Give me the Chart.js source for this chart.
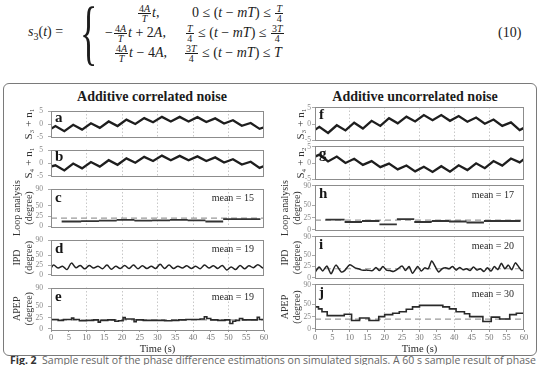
<!DOCTYPE html>
<html>
<head>
<meta charset="utf-8">
<script src="https://cdn.jsdelivr.net/npm/chart.js@4.4.0/dist/chart.umd.min.js"></script>
<style>
html, body { margin: 0; padding: 0; background: #fff; }
body { width: 540px; height: 365px; overflow: hidden; position: relative; font-family: "Liberation Serif", serif; color: #1c1c1c; }
canvas { position: absolute; }
#frame { position: absolute; left: 3px; top: 83px; width: 532px; height: 271px; border: 1px solid #7a7a7a; border-radius: 6px; }
.ttl { position: absolute; top: 89px; width: 260px; text-align: center; font-weight: bold; font-size: 14px; line-height: 16px; }
.eq { position: absolute; font-family: "Liberation Serif", serif; font-size: 14px; line-height: 20px; white-space: nowrap; }
.fr { display: inline-block; vertical-align: middle; text-align: center; font-size: 10px; line-height: 9px; margin: 0 1px; }
.fr > span { display: block; padding: 0 1px; }
.fr > span:first-child { border-bottom: 1px solid #1c1c1c; }
#brace { position: absolute; left: 80px; top: -4px; font-family: "Liberation Serif", serif; font-size: 72px; line-height: 72px; transform: scaleX(0.5); transform-origin: left top; }
#cap { position: absolute; left: 10px; top: 354px; font-family: "Open Sans", sans-serif; font-size: 10.5px; line-height: 13px; color: #666; white-space: nowrap; }
#cap b { color: #333; }
</style>
</head>
<body>
<div class="eq" style="left:28px;top:22px"><i>s</i><sub style="font-size:10px;line-height:0">3</sub>(<i>t</i>) =</div>
<div id="brace">{</div>
<div class="eq" style="left:137px;top:3px"><span class="fr"><span>4<i>A</i></span><span><i>T</i></span></span><i>t</i>,</div>
<div class="eq" style="left:192px;top:3px">0 ≤ (<i>t</i> − <i>mT</i>) ≤ <span class="fr"><span><i>T</i></span><span>4</span></span></div>
<div class="eq" style="left:105px;top:23px">−<span class="fr"><span>4<i>A</i></span><span><i>T</i></span></span><i>t</i> + 2<i>A</i>,</div>
<div class="eq" style="left:185px;top:23px"><span class="fr"><span><i>T</i></span><span>4</span></span> ≤ (<i>t</i> − <i>mT</i>) ≤ <span class="fr"><span>3<i>T</i></span><span>4</span></span></div>
<div class="eq" style="left:114px;top:43px"><span class="fr"><span>4<i>A</i></span><span><i>T</i></span></span><i>t</i> − 4<i>A</i>,</div>
<div class="eq" style="left:184px;top:43px"><span class="fr"><span>3<i>T</i></span><span>4</span></span> ≤ (<i>t</i> − <i>mT</i>) ≤ <i>T</i></div>
<div class="eq" style="left:498px;top:23px">(10)</div>

<div id="frame"></div>
<div class="ttl" style="left:22px">Additive correlated noise</div>
<div class="ttl" style="left:285px">Additive uncorrelated noise</div>
<div id="cap"><b>Fig. 2</b>&nbsp; Sample result of the phase difference estimations on simulated signals. A 60 s sample result of phase</div>

<script>
// triangle-wave vertices (s)
const triT = [0, 1.25, 3.75, 6.25, 8.75, 11.25, 13.75, 16.25, 18.75, 21.25, 23.75, 26.25, 28.75, 31.25, 33.75, 36.25, 38.75, 41.25, 43.75, 46.25, 48.75, 51.25, 53.75, 56.25, 58.75, 60];
const sigA = [-1.9, -0.8, -2.8, -0.3, -2.2, 0.3, -1.5, 1.0, -0.8, 1.7, 0.0, 2.3, 0.7, 2.8, 1.0, 2.8, 1.0, 2.7, 0.8, 2.2, 0.2, 1.5, -0.7, 0.4, -1.9, -1.3];
const sigB = [-1.4, -0.9, -2.9, -0.2, -2.1, 0.4, -1.4, 1.1, -0.7, 1.8, 0.1, 2.4, 0.8, 2.9, 1.1, 2.8, 1.1, 2.6, 0.8, 2.2, 0.2, 1.5, -0.6, 0.5, -1.9, -1.2];
const sigF = [-1.8, -0.9, -2.8, -0.4, -2.0, 0.4, -1.4, 1.0, -0.6, 1.8, 0.2, 2.3, 0.8, 2.8, 1.2, 2.8, 1.0, 2.5, 0.7, 2.0, 0.1, 1.4, -0.6, 0.5, -1.9, -1.2];
const sigG = [2.0, 2.6, 0.5, 2.0, 0.0, 1.3, -0.6, 0.6, -1.3, -0.2, -2.0, -0.8, -2.6, -1.2, -2.8, -1.0, -2.7, -0.7, -2.2, -0.1, -1.6, 0.6, -0.8, 1.4, 0.2, 1.2];

// loop analysis windows (s) and estimates (degree)
const loopT = [3, 8.5, 13.5, 18.5, 23.5, 28.5, 33.5, 38.5, 43.5, 48.5, 53.5, 59];
const loopL = [12, 13, 14, 16, 14, 15, 16, 15, 12, 18, 18];
const loopR = [21, 16, 18, 11, 22, 16, 18, 17, 15, 18, 18];

// IPD
const ipdLT = [0, 0.75, 2, 3.25, 4.5, 5.75, 7, 8.25, 9.5, 10.75, 12, 13.25, 14.5, 15.75, 17, 18.25, 19.5, 20.75, 22, 23.25, 24.5, 25.75, 27, 28.25, 29.5, 30.75, 32, 33.25, 34.5, 35.75, 37, 38.25, 39.5, 40.75, 42, 43.25, 44.5, 45.75, 47, 48.25, 49.5, 50.75, 52, 53.25, 54.5, 55.75, 57, 58.25, 59.5, 60];
const ipdL = [17, 25, 17, 22, 13, 30, 18, 24, 15, 24, 17, 22, 15, 25, 14, 22, 16, 24, 16, 25, 15, 23, 16, 22, 16, 27, 16, 25, 16, 22, 17, 23, 16, 22, 15, 25, 17, 23, 16, 24, 12, 20, 13, 24, 15, 23, 18, 26, 18, 16];
const ipdRT = [0, 1.2, 2.2, 3.4, 4.6, 6, 7.5, 8.5, 10, 11.5, 12.5, 13.5, 15, 16.5, 17.5, 18.5, 19.5, 20.5, 21.5, 22.5, 23.5, 25, 26, 27, 28, 29.5, 30.5, 31.5, 32.5, 33.5, 34.5, 35.5, 36.5, 37.5, 38.5, 39.5, 40.5, 41.5, 42.5, 43.5, 44.5, 45.5, 46.5, 47.5, 48.5, 49.5, 50.5, 51.5, 52.5, 53.5, 54.5, 55.5, 56.5, 57.5, 58.5, 59.3, 60];
const ipdR = [12, 24, 15, 26, 9, 28, 13, 16, 29, 22, 20, 17, 17, 16, 23, 16, 25, 17, 16, 14, 18, 26, 16, 25, 10, 25, 15, 22, 20, 37, 25, 13, 20, 22, 20, 25, 17, 23, 18, 20, 16, 24, 17, 20, 14, 22, 15, 25, 18, 32, 20, 28, 18, 33, 24, 16, 17];

// APEP
const apepLT = [0, 2, 3.5, 5.8, 6.4, 8, 10, 12, 13.3, 13.9, 16, 18, 19, 20.3, 20.9, 23.4, 24, 26, 30, 32, 34, 36, 38, 40, 42, 43.2, 43.9, 45, 47, 49, 50.4, 51.2, 52, 53.1, 54, 57, 58.1, 58.7, 60];
const apepL = [21, 19, 21, 24, 21, 18, 19, 20, 15, 19, 20, 17, 18, 25, 22, 16, 20, 19, 19, 18, 19, 20, 21, 21, 22, 27, 23, 20, 19, 20, 12, 17, 19, 23, 20, 20, 26, 21, 20];
const apepRT = [0, 1, 2, 3.5, 8.4, 10.5, 12.8, 15.5, 18.3, 20, 22.3, 24.2, 26.2, 28, 30, 36.7, 38.6, 40.5, 42.9, 44.4, 48.2, 50.6, 53, 55.9, 57.8, 60];
const apepR = [45, 41, 35, 27, 30, 17, 22, 17, 25, 29, 32, 35, 40, 45, 48, 45, 41, 35, 31, 25, 15, 24, 20, 29, 32, 32];

const refLevel = 20;
const sigTicks = [-5, 0, 5];
const degTicks = [0, 25, 50, 90];

Chart.defaults.font.family = '"Liberation Serif", serif';

function pts(xs, ys) {
    return xs.map((x, i) => ({x: x, y: ys[i]}));
}
// separate horizontal pieces, one per window
function segs(starts, ys) {
    const out = [];
    ys.forEach((y, i) => {
        out.push({x: starts[i], y: y}, {x: starts[i + 1], y: y}, {x: starts[i + 1], y: null});
    });
    return out;
}
function refLine() {
    return {data: [{x: 0, y: refLevel}, {x: 60, y: refLevel}], borderColor: '#9a9a9a', borderWidth: 1.2, borderDash: [6, 4], order: 2};
}

const panelFrame = {
    id: 'panelFrame',
    afterDraw(chart, args, opts) {
        const ctx = chart.ctx, a = chart.chartArea;
        ctx.save();
        ctx.strokeStyle = '#8c8c8c';
        ctx.lineWidth = 1;
        ctx.strokeRect(Math.round(a.left) + 0.5, Math.round(a.top) + 0.5, Math.round(a.right - a.left) - 1, Math.round(a.bottom - a.top) - 1);
        ctx.fillStyle = '#151515';
        ctx.font = 'bold 15px "Liberation Serif"';
        ctx.textBaseline = 'alphabetic';
        ctx.fillText(opts.letter, a.left + 4, a.top + opts.base);
        if (opts.mean) {
            ctx.font = '10px "Liberation Serif"';
            ctx.textAlign = 'right';
            ctx.textBaseline = 'middle';
            ctx.fillStyle = '#2a2a2a';
            ctx.fillText(opts.mean, a.right - 10, a.top + 10);
        }
        ctx.restore();
    }
};

const cols = {
    L: {left: 0, width: 270, axisW: 51, padR: 6, tickPad: 5, sigPad: 23, degPad: 11},
    R: {left: 270, width: 270, axisW: 45, padR: 16, tickPad: 1, sigPad: 25, degPad: 9}
};
const rows = [
    {top: 107, h: 34},
    {top: 146, h: 34},
    {top: 185, h: 46},
    {top: 236, h: 43},
    {top: 284, h: 46, bottom: true}
];

function panel(spec) {
    const col = cols[spec.col];
    const row = rows[spec.row];
    const sig = spec.kind === 'sig';
    const cv = document.createElement('canvas');
    cv.width = col.width;
    cv.height = 6 + row.h + (row.bottom ? 30 : 6);
    cv.style.left = col.left + 'px';
    cv.style.top = (row.top - 6) + 'px';
    document.body.appendChild(cv);

    new Chart(cv, {
        type: 'line',
        data: {datasets: spec.datasets},
        options: {
            responsive: false,
            animation: false,
            layout: {autoPadding: false, padding: {left: 0, right: col.padR, top: 6, bottom: row.bottom ? 4 : 6}},
            elements: {point: {radius: 0}, line: {tension: 0}},
            plugins: {
                legend: {display: false},
                tooltip: {enabled: false},
                panelFrame: {letter: spec.letter, mean: spec.mean, base: sig ? 11.5 : 13}
            },
            scales: {
                x: {
                    type: 'linear', min: 0, max: 60,
                    afterFit: s => { s.height = row.bottom ? 26 : 0; },
                    ticks: {display: !!row.bottom, stepSize: 5, padding: 1, autoSkip: false, maxRotation: 0, color: '#777', font: {size: 8.5}},
                    grid: {
                        drawTicks: !!row.bottom, tickLength: 2, tickColor: '#999',
                        color: c => (c.tick && c.tick.value % 10 === 0 && c.tick.value > 0 && c.tick.value < 60) ? '#c8c8c8' : 'rgba(0,0,0,0)'
                    },
                    border: {display: false, dash: [1.5, 2]},
                    title: {display: !!row.bottom, text: 'Time (s)', color: '#2a2a2a', font: {size: 10.5}, padding: 0}
                },
                y: {
                    min: sig ? -5.3 : -2.5,
                    max: sig ? 5.3 : 92,
                    afterFit: s => { s.width = col.axisW; },
                    afterBuildTicks: s => { s.ticks = (sig ? sigTicks : degTicks).map(v => ({value: v})); },
                    ticks: {color: '#888', padding: col.tickPad, font: {size: 7.5}},
                    grid: {drawOnChartArea: false, drawTicks: true, tickLength: 3, tickColor: '#aaa'},
                    border: {display: false},
                    title: {
                        display: true, text: spec.ylabel, color: '#333',
                        font: {size: sig ? 11 : 10, lineHeight: 1.2},
                        padding: {top: sig ? col.sigPad : col.degPad, bottom: 0}
                    }
                }
            }
        },
        plugins: [panelFrame]
    });
}

const sigStyle = {borderColor: '#1e1e1e', borderWidth: 2.3};
const stepStyle = {borderColor: '#2a2a2a', borderWidth: 1.6, stepped: true};

panel({col: 'L', row: 0, kind: 'sig', letter: 'a', ylabel: 'S₃ + n₁', datasets: [Object.assign({data: pts(triT, sigA)}, sigStyle)]});
panel({col: 'L', row: 1, kind: 'sig', letter: 'b', ylabel: 'S₄ + n₁', datasets: [Object.assign({data: pts(triT, sigB)}, sigStyle)]});
panel({col: 'L', row: 2, kind: 'deg', letter: 'c', mean: 'mean = 15', ylabel: ['Loop analysis', '(degree)'],
    datasets: [{data: segs(loopT, loopL), borderColor: '#333', borderWidth: 1.8, spanGaps: false, order: 1}, refLine()]});
panel({col: 'L', row: 3, kind: 'deg', letter: 'd', mean: 'mean = 19', ylabel: ['IPD', '(degree)'],
    datasets: [{data: pts(ipdLT, ipdL), borderColor: '#222', borderWidth: 1.5, tension: 0.35, order: 1}]});
panel({col: 'L', row: 4, kind: 'deg', letter: 'e', mean: 'mean = 19', ylabel: ['APEP', '(degree)'],
    datasets: [Object.assign({data: pts(apepLT, apepL), order: 1}, stepStyle), refLine()]});

panel({col: 'R', row: 0, kind: 'sig', letter: 'f', ylabel: 'S₃ + n₁', datasets: [Object.assign({data: pts(triT, sigF)}, sigStyle)]});
panel({col: 'R', row: 1, kind: 'sig', letter: 'g', ylabel: 'S₄ + n₂', datasets: [Object.assign({data: pts(triT, sigG)}, sigStyle)]});
panel({col: 'R', row: 2, kind: 'deg', letter: 'h', mean: 'mean = 17', ylabel: ['Loop analysis', '(degree)'],
    datasets: [{data: segs(loopT, loopR), borderColor: '#333', borderWidth: 1.8, spanGaps: false, order: 1}, refLine()]});
panel({col: 'R', row: 3, kind: 'deg', letter: 'i', mean: 'mean = 20', ylabel: ['IPD', '(degree)'],
    datasets: [{data: pts(ipdRT, ipdR), borderColor: '#222', borderWidth: 1.5, tension: 0.25, order: 1}, refLine()]});
panel({col: 'R', row: 4, kind: 'deg', letter: 'j', mean: 'mean = 30', ylabel: ['APEP', '(degree)'],
    datasets: [Object.assign({data: pts(apepRT, apepR), order: 1}, stepStyle), refLine()]});
</script>
</body>
</html>
